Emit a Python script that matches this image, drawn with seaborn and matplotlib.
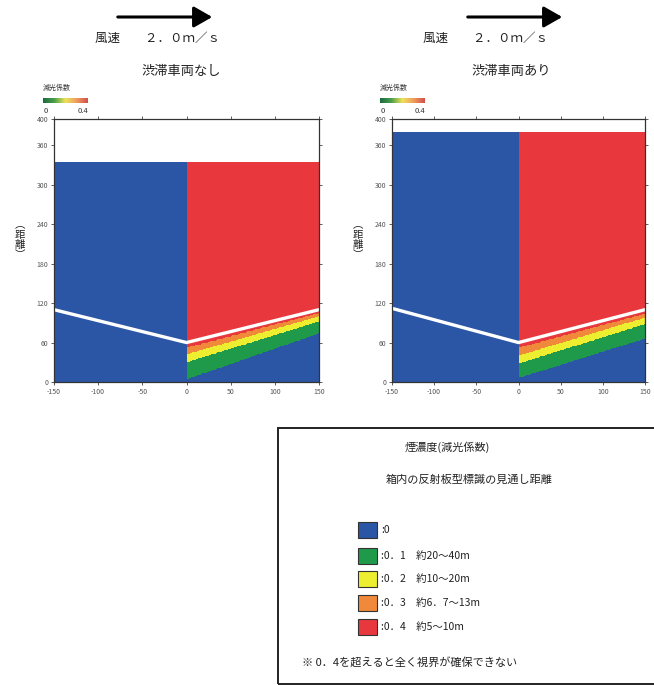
import numpy as np
import matplotlib
matplotlib.use("Agg")
import matplotlib.pyplot as plt
import seaborn as sns
from matplotlib.colors import ListedColormap, LinearSegmentedColormap, BoundaryNorm
from matplotlib.patches import Rectangle, FancyArrowPatch

sns.set_theme(style="ticks")
plt.rcParams["font.family"] = ["Noto Sans CJK JP", "DejaVu Sans"]

# ---- data -------------------------------------------------------------
panel_titles = ["渋滞車両なし", "渋滞車両あり"]
wind_label = "風速　　２．０ｍ／ｓ"

x_ticks = [-150, -100, -50, 0, 50, 100, 150]
y_ticks = [0, 60, 120, 180, 240, 300, 360, 400]

# upper limit of the smoke field in each case
smoke_top = [335, 380]

# road / ceiling profile (white line)
line_x = [-150, 0, 150]
line_y = [[110, 60, 110], [112, 60, 110]]

# band boundaries downstream of x = 0 (height at x = 0 and x = 150)
boundary_x = [0, 150]
bound_blue_green = [[4, 74], [6, 66]]
bound_green_yellow = [[30, 92], [28, 88]]
bound_yellow_orange = [[42, 100], [40, 98]]
bound_orange_red = [[52, 105], [52, 104]]

level_values = [0.0, 0.1, 0.2, 0.3, 0.4]
level_colors = ["#2b56a6", "#1f9a4a", "#eeee30", "#f08a3a", "#e8383d"]
legend_labels = [":0", ":0．1　約20～40m", ":0．2　約10～20m",
                 ":0．3　約6．7～13m", ":0．4　約5～10m"]

# ---- figure -----------------------------------------------------------
W, H = 654, 685
fig = plt.figure(figsize=(W / 100, H / 100), dpi=100)


def fx(px):
    return px / W


def fy(py):
    return 1 - py / H


cmap = ListedColormap(level_colors)
norm = BoundaryNorm([-0.05, 0.05, 0.15, 0.25, 0.35, 0.45], cmap.N)
bar_cmap = LinearSegmentedColormap.from_list(
    "bar", ["#1b6b40", "#49a04c", "#f0e25a", "#ee9d5e", "#d4504a"])

axes_px = [(54, 319), (392, 645)]
top_px, bottom_px = 119, 382

x_edges = np.arange(-150, 151, 1.0)
xc = 0.5 * (x_edges[:-1] + x_edges[1:])

for i in range(2):
    l, r = axes_px[i]
    ax = fig.add_axes([fx(l), fy(bottom_px), (r - l) / W, (bottom_px - top_px) / H])

    y_edges = np.arange(0, smoke_top[i] + 0.5, 1.0)
    yc = 0.5 * (y_edges[:-1] + y_edges[1:])
    b1 = np.interp(xc, boundary_x, bound_blue_green[i])
    b2 = np.interp(xc, boundary_x, bound_green_yellow[i])
    b3 = np.interp(xc, boundary_x, bound_yellow_orange[i])
    b4 = np.interp(xc, boundary_x, bound_orange_red[i])
    Y = yc[:, None]
    lvl = np.zeros((len(yc), len(xc)))
    lvl = np.where(Y >= b1[None, :], 0.1, lvl)
    lvl = np.where(Y >= b2[None, :], 0.2, lvl)
    lvl = np.where(Y >= b3[None, :], 0.3, lvl)
    lvl = np.where(Y >= b4[None, :], 0.4, lvl)
    lvl = np.where(xc[None, :] < 0, 0.0, lvl)

    ax.pcolormesh(x_edges, y_edges, lvl, cmap=cmap, norm=norm,
                  shading="flat", rasterized=True)
    sns.lineplot(x=line_x, y=line_y[i], ax=ax, color="white", lw=2.4,
                 estimator=None, sort=False)

    ax.set_xlim(-150, 150)
    ax.set_ylim(0, 400)
    ax.set_xticks(x_ticks)
    ax.set_yticks(y_ticks)
    ax.set_xticklabels([str(v) for v in x_ticks], fontsize=5, color="#555555")
    ax.set_yticklabels([str(v) for v in y_ticks], fontsize=5, color="#555555")
    ax.tick_params(axis="both", direction="out", length=2.5, width=0.6,
                   pad=1.5, top=True, right=True, color="#444444")
    for s in ax.spines.values():
        s.set_linewidth(0.9)
        s.set_color("#333333")
    ax.set_xlabel("")
    ax.set_ylabel("")

    # vertical axis caption
    fig.text(fx(l - 34), fy(240), "︵\n距\n離\n︶", fontsize=7.5,
             ha="center", va="center", linespacing=1.0, color="#222222")

    # small colour bar above the panel
    cb_left = l - 11 if i == 0 else l - 12
    cax = fig.add_axes([fx(cb_left), fy(103), 45 / W, 5 / H])
    cax.imshow(np.linspace(0, 0.4, 100)[None, :], aspect="auto", cmap=bar_cmap,
               extent=[0, 0.4, 0, 1])
    cax.set_xticks([])
    cax.set_yticks([])
    for s in cax.spines.values():
        s.set_visible(False)
    fig.text(fx(cb_left), fy(88), "減光係数", fontsize=5, ha="left",
             va="center", color="#333333")
    fig.text(fx(cb_left + 1), fy(111), "0", fontsize=5.5, ha="left",
             va="center", color="#333333")
    fig.text(fx(cb_left + 40), fy(111), "0.4", fontsize=5.5, ha="center",
             va="center", color="#333333")

# headers: wind arrow, wind speed, case titles
arrow_px = [(115, 215), (465, 565)]
title_cx = [181, 511]
wind_x = [95, 423]
for i in range(2):
    a0, a1 = arrow_px[i]
    fig.patches.append(FancyArrowPatch(
        (fx(a0), fy(17)), (fx(a1), fy(17)), transform=fig.transFigure,
        arrowstyle="-|>,head_length=7,head_width=4", mutation_scale=1.6,
        lw=2.2, color="black"))
    fig.text(fx(wind_x[i]), fy(38), wind_label, fontsize=9, ha="left",
             va="center", color="#222222")
    fig.text(fx(title_cx[i]), fy(71), panel_titles[i], fontsize=9.5,
             ha="center", va="center", color="#222222")

# legend box
fig.patches.append(Rectangle((fx(278), fy(684)), 1.0, (684 - 428) / H,
                             transform=fig.transFigure, fill=False,
                             edgecolor="#222222", lw=1.4))
fig.text(fx(447), fy(447), "煙濃度(減光係数)", fontsize=8, ha="center",
         va="center", color="#222222")
fig.text(fx(469), fy(480), "箱内の反射板型標識の見通し距離", fontsize=8,
         ha="center", va="center", color="#222222")
sq_y = [530, 556, 579, 603, 627]
for yy, c, lab in zip(sq_y, level_colors, legend_labels):
    fig.patches.append(Rectangle((fx(358), fy(yy + 8)), 19 / W, 16 / H,
                                 transform=fig.transFigure, facecolor=c,
                                 edgecolor="#333333", lw=0.8))
    fig.text(fx(381), fy(yy), lab, fontsize=7.5, ha="left", va="center",
             color="#222222")
fig.text(fx(302), fy(663), "※ 0．4を超えると全く視界が確保できない",
         fontsize=8, ha="left", va="center", color="#222222")

fig.savefig("out.png", dpi=100)
